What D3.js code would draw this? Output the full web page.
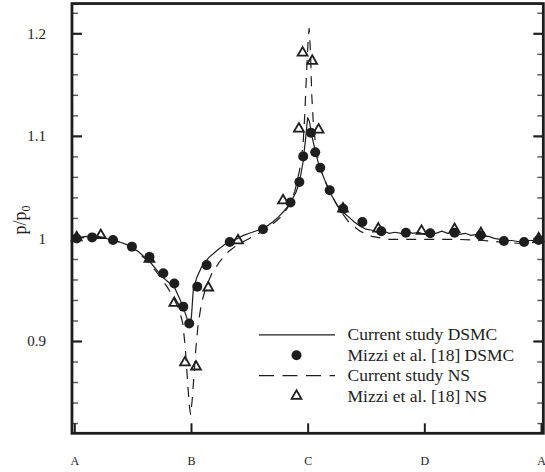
<!DOCTYPE html>
<meta charset="utf-8">
<script src="https://d3js.org/d3.v7.min.js"></script>
<style>
    body { margin: 0; background: #fff; }
    svg text { font-family: "Liberation Serif", "Times New Roman", "DejaVu Serif", serif; fill: #222; }
</style>
<body>
<div id="chart"></div>
</body>
<script>
    // x positions along the wall (A=0, B=1, C=2, D=3, A=4), y = p/p0
    const xTickValues = [0, 1, 2, 3, 4];
    const xTickLabels = ["A", "B", "C", "D", "A"];
    const yMajorTicks = [0.9, 1.0, 1.1, 1.2];
    const yMinorTicks = [0.82, 0.84, 0.86, 0.88, 0.92, 0.94, 0.96, 0.98, 1.02, 1.04, 1.06, 1.08,
        1.12, 1.14, 1.16, 1.18, 1.22];
    const yTickLabels = ["0.9", "1", "1.1", "1.2"];

    const legendLabels = ["Current study DSMC", "Mizzi et al. [18] DSMC", "Current study NS", "Mizzi et al. [18] NS"];

    // Current study DSMC (solid line)
    const dsmcLine = [
        [0.00, 1.000], [0.05, 1.001], [0.10, 1.002], [0.15, 1.001], [0.20, 1.002], [0.25, 1.001],
        [0.30, 0.999], [0.35, 0.998], [0.40, 0.996], [0.45, 0.994], [0.50, 0.991], [0.55, 0.987],
        [0.60, 0.982], [0.65, 0.977], [0.70, 0.970], [0.75, 0.963], [0.80, 0.958], [0.86, 0.952],
        [0.90, 0.942], [0.93, 0.934], [0.96, 0.924], [0.99, 0.913], [1.005, 0.925], [1.02, 0.950],
        [1.05, 0.962], [1.09, 0.972], [1.15, 0.981], [1.23, 0.989], [1.30, 0.995], [1.35, 0.998],
        [1.40, 1.000], [1.45, 1.003], [1.50, 1.005], [1.55, 1.007], [1.60, 1.009], [1.65, 1.012],
        [1.70, 1.016], [1.75, 1.021], [1.80, 1.027], [1.85, 1.034], [1.90, 1.045], [1.93, 1.055],
        [1.96, 1.074], [1.985, 1.100], [2.00, 1.118], [2.015, 1.114], [2.04, 1.098], [2.07, 1.083],
        [2.10, 1.070], [2.15, 1.056], [2.20, 1.043], [2.25, 1.033], [2.30, 1.026], [2.35, 1.021],
        [2.40, 1.016], [2.45, 1.012], [2.50, 1.009], [2.55, 1.008], [2.60, 1.006], [2.65, 1.007],
        [2.70, 1.005], [2.75, 1.006], [2.80, 1.005], [2.85, 1.007], [2.90, 1.005], [2.95, 1.006],
        [3.00, 1.004], [3.05, 1.006], [3.10, 1.005], [3.15, 1.007], [3.20, 1.005], [3.25, 1.006],
        [3.30, 1.004], [3.35, 1.005], [3.40, 1.003], [3.45, 1.004], [3.50, 1.002], [3.55, 1.002],
        [3.60, 1.000], [3.65, 0.999], [3.70, 0.998], [3.75, 0.998], [3.80, 0.997], [3.85, 0.997],
        [3.90, 0.998], [3.95, 0.998], [4.00, 0.999]
    ];

    // Current study NS (dashed line)
    const nsLine = [
        [0.00, 1.000], [0.10, 1.001], [0.20, 1.001], [0.30, 0.999], [0.40, 0.996], [0.50, 0.990],
        [0.60, 0.981], [0.70, 0.968], [0.80, 0.952], [0.86, 0.940], [0.90, 0.930], [0.93, 0.917],
        [0.95, 0.895], [0.97, 0.862], [0.985, 0.838], [0.997, 0.828], [1.01, 0.842], [1.025, 0.865],
        [1.04, 0.890], [1.06, 0.915], [1.09, 0.937], [1.13, 0.953], [1.18, 0.966], [1.25, 0.978],
        [1.32, 0.987], [1.40, 0.994], [1.50, 1.000], [1.60, 1.006], [1.70, 1.014], [1.78, 1.022],
        [1.84, 1.032], [1.89, 1.046], [1.93, 1.066], [1.96, 1.090], [1.975, 1.120], [1.99, 1.160],
        [2.005, 1.195], [2.013, 1.205], [2.025, 1.180], [2.035, 1.140], [2.05, 1.110], [2.07, 1.090],
        [2.10, 1.072], [2.14, 1.058], [2.20, 1.043], [2.28, 1.027], [2.36, 1.015], [2.45, 1.007],
        [2.55, 1.002], [2.70, 0.999], [2.90, 0.999], [3.10, 0.999], [3.30, 0.999], [3.50, 0.998],
        [3.70, 0.996], [3.85, 0.995], [4.00, 0.997]
    ];

    // Mizzi et al. [18] DSMC (filled circles)
    const mizziDsmc = [
        [0.02, 1.000], [0.153, 1.001], [0.332, 0.9985], [0.494, 0.992], [0.644, 0.982], [0.763, 0.966],
        [0.857, 0.956], [0.934, 0.9335], [0.985, 0.917], [1.054, 0.953], [1.134, 0.974], [1.332, 0.9965],
        [1.617, 1.009], [1.853, 1.035], [1.929, 1.055], [1.962, 1.080], [2.028, 1.103], [2.065, 1.084],
        [2.108, 1.069], [2.189, 1.047], [2.304, 1.029], [2.469, 1.016], [2.631, 1.007], [2.842, 1.0056],
        [3.051, 1.005], [3.259, 1.0056], [3.482, 1.003], [3.682, 0.9975], [3.855, 0.9965], [3.98, 0.9985]
    ];

    // Mizzi et al. [18] NS (open triangles)
    const mizziNs = [
        [0.02, 1.001], [0.227, 1.003], [0.644, 0.980], [0.857, 0.937], [0.949, 0.879], [1.043, 0.875],
        [1.148, 0.952], [1.403, 0.998], [1.789, 1.037], [1.925, 1.107], [1.957, 1.181], [2.039, 1.173],
        [2.094, 1.106], [2.303, 1.029], [2.605, 1.0095], [2.976, 1.0072], [3.259, 1.009], [3.485, 1.005],
        [3.98, 1.000]
    ];

    const W = 545, H = 472;
    const ink = "#1e1e1e";
    const serif = "'Liberation Serif', 'Times New Roman', 'DejaVu Serif', serif";

    const svg = d3.select("#chart").append("svg")
        .attr("width", W)
        .attr("height", H)
        .attr("font-family", serif);

    const x = d3.scaleLinear().domain([0, 4]).range([74.3, 541]);
    const y = d3.scaleLinear().domain([0.9, 1.2]).range([341, 33.3]);

    const frameL = x(-0.02), frameR = x(4.02);
    const frameT = y(1.229), frameB = y(0.81);

    // left ticks (inward) with labels
    svg.append("g")
        .attr("transform", "translate(" + frameL + ",0)")
        .call(d3.axisLeft(y).tickValues(yMajorTicks).tickSize(-10).tickPadding(26)
            .tickFormat((d, i) => yTickLabels[i]))
        .attr("font-family", serif).attr("font-size", 15)
        .call(g => g.select(".domain").remove())
        .call(g => g.selectAll("line").attr("stroke", ink).attr("stroke-width", 2.2))
        .call(g => g.selectAll("text").attr("fill", "#222"));
    svg.append("g")
        .attr("transform", "translate(" + frameL + ",0)")
        .call(d3.axisLeft(y).tickValues(yMinorTicks).tickSize(-6).tickFormat(""))
        .call(g => g.select(".domain").remove())
        .call(g => g.selectAll("line").attr("stroke", "#555").attr("stroke-width", 1.4));

    // right ticks (inward)
    svg.append("g")
        .attr("transform", "translate(" + frameR + ",0)")
        .call(d3.axisRight(y).tickValues(yMajorTicks).tickSize(-10).tickFormat(""))
        .call(g => g.select(".domain").remove())
        .call(g => g.selectAll("line").attr("stroke", ink).attr("stroke-width", 2.2));
    svg.append("g")
        .attr("transform", "translate(" + frameR + ",0)")
        .call(d3.axisRight(y).tickValues(yMinorTicks).tickSize(-6).tickFormat(""))
        .call(g => g.select(".domain").remove())
        .call(g => g.selectAll("line").attr("stroke", "#555").attr("stroke-width", 1.4));

    // bottom ticks
    svg.append("g")
        .attr("transform", "translate(0," + frameB + ")")
        .call(d3.axisBottom(x).tickValues(xTickValues).tickSize(-10).tickPadding(23)
            .tickFormat((d, i) => xTickLabels[i]))
        .attr("font-family", serif).attr("font-size", 12)
        .call(g => g.select(".domain").remove())
        .call(g => g.selectAll("line").attr("stroke", ink).attr("stroke-width", 2))
        .call(g => g.selectAll("text").attr("fill", "#222"));

    // frame
    svg.append("rect")
        .attr("x", frameL).attr("y", frameT)
        .attr("width", frameR - frameL).attr("height", frameB - frameT)
        .attr("fill", "none").attr("stroke", ink).attr("stroke-width", 2.8);

    // y axis title
    const yt = svg.append("text")
        .attr("transform", "translate(26,220) rotate(-90)")
        .attr("text-anchor", "middle")
        .attr("font-size", 18);
    yt.append("tspan").text("p/p");
    yt.append("tspan").attr("dy", 4).attr("font-size", 12).text("0");

    const line = d3.line().x(d => x(d[0])).y(d => y(d[1]));

    svg.append("path").datum(nsLine)
        .attr("d", line).attr("fill", "none")
        .attr("stroke", ink).attr("stroke-width", 1.2)
        .attr("stroke-dasharray", "10,8");

    svg.append("path").datum(dsmcLine)
        .attr("d", line).attr("fill", "none")
        .attr("stroke", ink).attr("stroke-width", 1.2);

    const tri = d3.symbol().type(d3.symbolTriangle).size(42);

    svg.append("g").selectAll("circle")
        .data(mizziDsmc).enter().append("circle")
        .attr("cx", d => x(d[0])).attr("cy", d => y(d[1]))
        .attr("r", 5).attr("fill", ink);

    svg.append("g").selectAll("path")
        .data(mizziNs).enter().append("path")
        .attr("d", tri)
        .attr("transform", d => "translate(" + x(d[0]) + "," + y(d[1]) + ")")
        .attr("fill", "none").attr("stroke", ink).attr("stroke-width", 1.8);

    // legend
    const lg = svg.append("g");
    const rowY = [334.8, 355.2, 375.6, 396];
    lg.append("line").attr("x1", 259).attr("x2", 335).attr("y1", rowY[0]).attr("y2", rowY[0])
        .attr("stroke", ink).attr("stroke-width", 1.2);
    lg.append("circle").attr("cx", 296.5).attr("cy", rowY[1]).attr("r", 5).attr("fill", ink);
    lg.append("line").attr("x1", 259).attr("x2", 335).attr("y1", rowY[2]).attr("y2", rowY[2])
        .attr("stroke", ink).attr("stroke-width", 1.2).attr("stroke-dasharray", "15,8.5");
    lg.append("path").attr("d", tri)
        .attr("transform", "translate(296.5," + rowY[3] + ")")
        .attr("fill", "none").attr("stroke", ink).attr("stroke-width", 1.8);

    lg.selectAll("text.lab")
        .data(legendLabels).enter().append("text")
        .attr("class", "lab")
        .attr("x", 347.5)
        .attr("y", (d, i) => rowY[i] + 5.5)
        .attr("font-size", 17.5)
        .text(d => d);
</script>
</html>
